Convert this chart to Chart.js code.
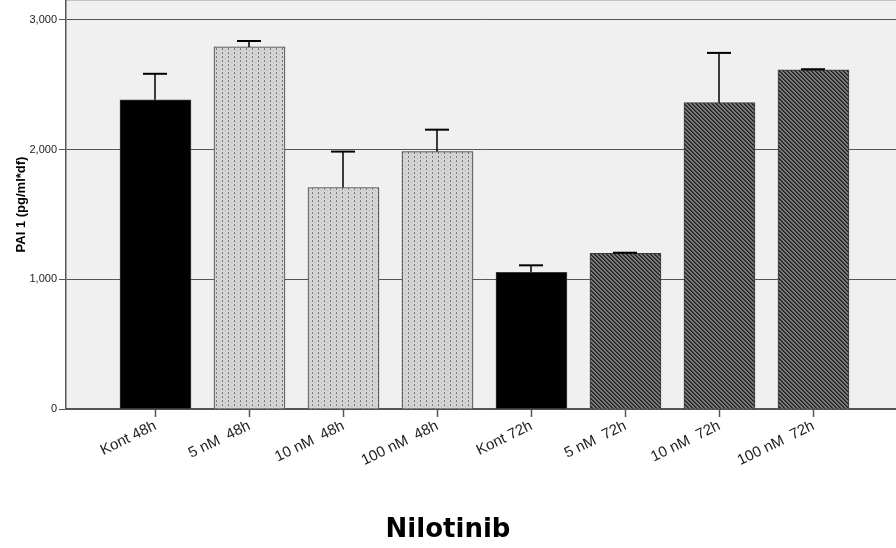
<!DOCTYPE html>
<html>
<head>
<meta charset="utf-8">
<script src="https://cdn.jsdelivr.net/npm/chart.js@4"></script>
<style>
html,body{margin:0;padding:0;background:#fff;overflow:hidden;}
canvas{display:block;}
</style>
</head>
<body>
<canvas id="c" width="896" height="548"></canvas>
<script>
const categories = ['Kont 48h', '5 nM  48h', '10 nM  48h', '100 nM  48h', 'Kont 72h', '5 nM  72h', '10 nM  72h', '100 nM  72h'];
const means = [2385, 2792, 1708, 1985, 1054, 1200, 2362, 2615];
const errHigh = [2585, 2838, 1985, 2154, 1108, 1205, 2746, 2620];
const yTicks = [0, 1000, 2000, 3000];
const yTitle = 'PAI 1 (pg/ml*df)';
const xTitle = 'Nilotinib';

function dotPattern() {
  const t = document.createElement('canvas');
  t.width = 6; t.height = 4;
  const g = t.getContext('2d');
  g.fillStyle = '#d4d4d4'; g.fillRect(0, 0, 6, 4);
  g.fillStyle = '#7a7a7a'; g.fillRect(0, 0, 1, 2);
  g.fillStyle = '#b4b4b4'; g.fillRect(3, 2, 1, 1);
  return g.createPattern(t, 'repeat');
}
function hatchPattern() {
  const t = document.createElement('canvas');
  t.width = 4; t.height = 4;
  const g = t.getContext('2d');
  g.fillStyle = '#7a7a7a'; g.fillRect(0, 0, 4, 4);
  for (let i = 0; i < 4; i++) {
    g.fillStyle = '#1e1e1e'; g.fillRect(i, i, 1, 1);
    g.fillStyle = '#3e3e3e'; g.fillRect((i + 1) % 4, i, 1, 1);
  }
  return g.createPattern(t, 'repeat');
}
const dots = dotPattern();
const hatch = hatchPattern();
const fills = categories.map(c => c.startsWith('Kont') ? '#000' : (c.endsWith('48h') ? dots : hatch));

const bgPlugin = {
  id: 'bg',
  beforeDraw(chart) {
    const {ctx, chartArea: a} = chart;
    ctx.save();
    ctx.fillStyle = '#f0f0f0';
    ctx.fillRect(a.left, a.top, a.right - a.left, a.bottom - a.top);
    ctx.strokeStyle = '#c4c4c4'; ctx.lineWidth = 1;
    ctx.beginPath(); ctx.moveTo(a.left, a.top + 0.5); ctx.lineTo(a.right, a.top + 0.5); ctx.stroke();
    ctx.restore();
  }
};
const errPlugin = {
  id: 'err',
  afterDatasetsDraw(chart) {
    const {ctx} = chart;
    const xs = chart.scales.x, ys = chart.scales.y;
    ctx.save();
    ctx.strokeStyle = '#000';
    errHigh.forEach((e, i) => {
      const x = Math.round(xs.getPixelForValue(i));
      const yt = ys.getPixelForValue(e);
      const yb = ys.getPixelForValue(means[i]);
      ctx.lineWidth = 1.5;
      ctx.beginPath(); ctx.moveTo(x, yb); ctx.lineTo(x, yt); ctx.stroke();
      ctx.lineWidth = 2;
      ctx.beginPath(); ctx.moveTo(x - 12, yt); ctx.lineTo(x + 12, yt); ctx.stroke();
    });
    ctx.restore();
  }
};

new Chart(document.getElementById('c'), {
  type: 'bar',
  data: {
    datasets: [{
      data: means.map((v, i) => ({x: i, y: v})),
      backgroundColor: fills,
      borderColor: '#3a3a3a',
      borderWidth: 1,
      barThickness: 71
    }]
  },
  plugins: [bgPlugin, errPlugin],
  options: {
    responsive: false,
    animation: false,
    locale: 'en-US',
    layout: {padding: 0},
    plugins: {
      legend: {display: false},
      tooltip: {enabled: false},
      title: {display: true, position: 'bottom', text: xTitle, color: '#000',
        font: {family: 'DejaVu Sans', size: 26, weight: 'bold'}, padding: {top: 0, bottom: 2}}
    },
    scales: {
      x: {
        type: 'linear',
        offset: false,
        min: -0.952,
        max: 7.878,
        afterBuildTicks: s => { s.ticks = categories.map((_, i) => ({value: i})); },
        afterFit: s => { s.height = 139 - 33.2; s.paddingLeft = 0; s.paddingRight = 0; },
        grid: {offset: false, drawOnChartArea: false, drawTicks: true, tickLength: 8, tickColor: '#555', tickWidth: 1.5},
        border: {color: '#555', width: 1.5},
        ticks: {
          autoSkip: false, minRotation: 26, maxRotation: 26, padding: 0,
          color: '#222', font: {family: 'Liberation Sans', size: 15},
          callback: v => categories[v]
        }
      },
      y: {
        min: 0,
        max: 3154,
        afterBuildTicks: s => { s.ticks = yTicks.map(v => ({value: v})); },
        afterFit: s => { s.width = 66; s.paddingTop = 0; s.paddingBottom = 0; },
        grid: {color: '#555', lineWidth: 1, tickLength: 7, tickColor: '#555'},
        border: {color: '#555', width: 1.5},
        ticks: {color: '#222', font: {family: 'Liberation Sans', size: 11}, padding: 2},
        title: {display: true, text: yTitle, color: '#000',
          font: {family: 'Liberation Sans', size: 13, weight: 'bold'}, padding: {top: 14, bottom: 0}}
      }
    }
  }
});
</script>
</body>
</html>
